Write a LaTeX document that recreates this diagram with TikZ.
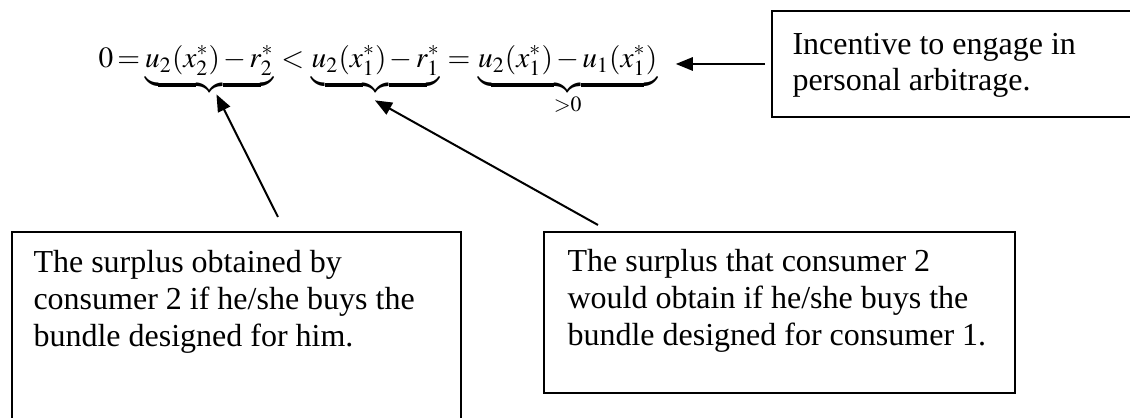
\documentclass[tikz,border=0pt]{standalone}
\usepackage{mathptmx}
\usepackage{fontspec}
\setmainfont{Liberation Serif}
\usetikzlibrary{arrows.meta, positioning, calc}

\tikzset{
  framebox/.style={draw, line width=0.75pt, inner sep=0pt, outer sep=0pt},
  note/.style={inner sep=0pt, align=left, anchor=base west,
    font=\fontsize{12}{13.8}\selectfont},
  eqpart/.style={inner sep=0pt, anchor=base west,
    font=\fontsize{11}{13}\selectfont},
  pointer/.style={line width=0.75pt, -{Triangle[length=6.4pt, width=5pt]}}
}
\thickmuskip=4mu
\medmuskip=2mu

\begin{document}
\begin{tikzpicture}[x=0.375pt, y=-0.375pt]
  \useasboundingbox (0,0) rectangle (1130,418);
  % the equation
  \node[eqpart] (zero) at (98,68) {$0\mskip2.5mu{=}\mskip2.5mu$};
  \node[eqpart] (own) at (zero.base east) {$\underbrace{u_2(x_2^*)-r_2^*}$};
  \node[eqpart] (less) at (own.base east) {${}<{}$};
  \node[eqpart] (other) at (less.base east) {$\underbrace{u_2(x_1^*)-r_1^*}$};
  \node[eqpart] (equal) at (other.base east) {${}={}$};
  \node[eqpart] (gain) at (equal.base east)
    {$\underbrace{u_2(x_1^*)-u_1(x_1^*)}_{\smash{\raisebox{0.5pt}{$\scriptstyle>0$}}}$};
  % boxes
  \node[framebox, minimum width=139.9pt, minimum height=39.75pt] (incbox) at (958.5,64) {};
  \node[framebox, minimum width=168.4pt, minimum height=74.25pt] (ownbox) at (236.5,331) {};
  \node[framebox, minimum width=176.6pt, minimum height=60.4pt] (otherbox) at (779.5,312.5) {};
  \node[note] (inctext) at ([shift={(20,80)}]incbox.north west)
    {Incentive to engage in\\personal arbitrage.};
  \node[note] (owntext) at ([shift={(21,114.6)}]ownbox.north west)
    {The surplus obtained by\\consumer 2 if he/she buys the\\bundle designed for him.};
  \node[note] (othertext) at ([shift={(23,113.6)}]otherbox.north west)
    {The surplus that consumer 2\\would obtain if he/she buys the\\bundle designed for consumer 1.};
  % pointers
  \coordinate (ownfoot) at (278,217);
  \coordinate (otherfoot) at (598,225);
  \draw[pointer] (ownfoot) -- ([shift={(7,-1)}]own.south);
  \draw[pointer] (otherfoot) -- ([shift={(-1,5)}]other.south);
  \draw[pointer, shorten <=2.6pt, shorten >=6.75pt] (incbox.west) -- (incbox.west -| gain.east);
\end{tikzpicture}
\end{document}
